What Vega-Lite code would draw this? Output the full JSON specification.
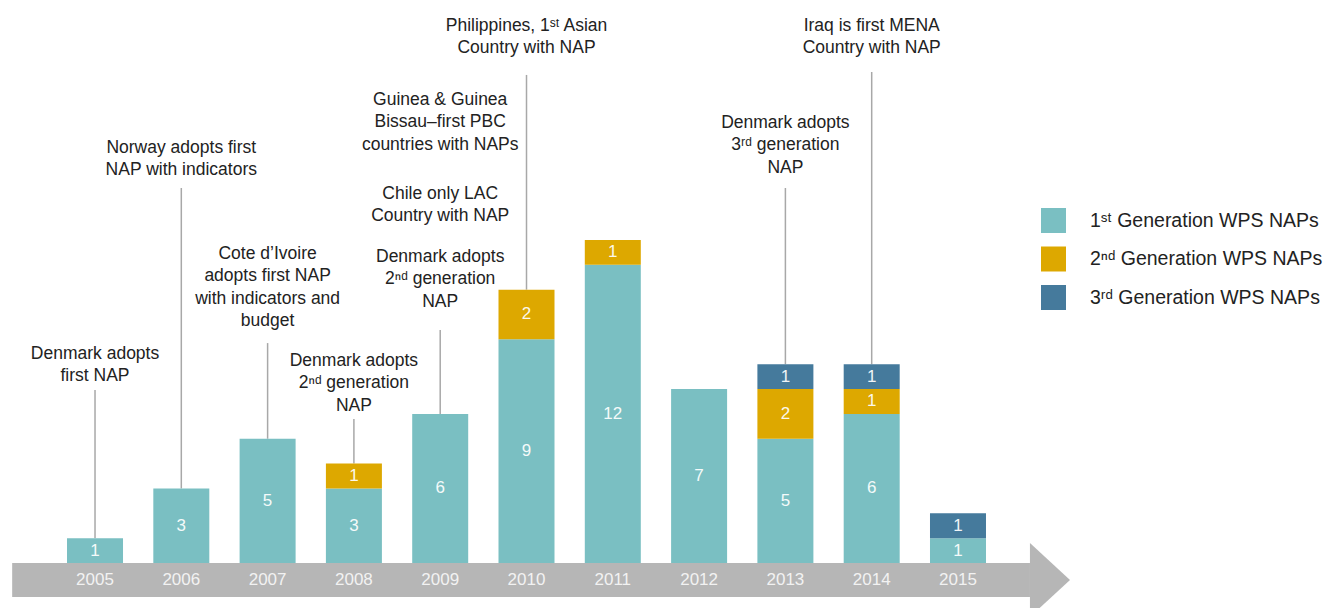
{
  "$schema": "https://vega.github.io/schema/vega-lite/v6.json",
  "width": 1327,
  "height": 608,
  "padding": 0,
  "autosize": {"type": "none"},
  "background": "white",
  "config": {"view": {"stroke": null}, "font": "Liberation Sans", "scale": {"continuousPadding": 0}},
  "datasets": {
    "bars": [
      {"year": 2005, "gen": "1ˢᵗ Generation WPS NAPs", "n": 1},
      {"year": 2006, "gen": "1ˢᵗ Generation WPS NAPs", "n": 3},
      {"year": 2007, "gen": "1ˢᵗ Generation WPS NAPs", "n": 5},
      {"year": 2008, "gen": "1ˢᵗ Generation WPS NAPs", "n": 3},
      {"year": 2008, "gen": "2ⁿᵈ Generation WPS NAPs", "n": 1},
      {"year": 2009, "gen": "1ˢᵗ Generation WPS NAPs", "n": 6},
      {"year": 2010, "gen": "1ˢᵗ Generation WPS NAPs", "n": 9},
      {"year": 2010, "gen": "2ⁿᵈ Generation WPS NAPs", "n": 2},
      {"year": 2011, "gen": "1ˢᵗ Generation WPS NAPs", "n": 12},
      {"year": 2011, "gen": "2ⁿᵈ Generation WPS NAPs", "n": 1},
      {"year": 2012, "gen": "1ˢᵗ Generation WPS NAPs", "n": 7},
      {"year": 2013, "gen": "1ˢᵗ Generation WPS NAPs", "n": 5},
      {"year": 2013, "gen": "2ⁿᵈ Generation WPS NAPs", "n": 2},
      {"year": 2013, "gen": "3ʳᵈ Generation WPS NAPs", "n": 1},
      {"year": 2014, "gen": "1ˢᵗ Generation WPS NAPs", "n": 6},
      {"year": 2014, "gen": "2ⁿᵈ Generation WPS NAPs", "n": 1},
      {"year": 2014, "gen": "3ʳᵈ Generation WPS NAPs", "n": 1},
      {"year": 2015, "gen": "1ˢᵗ Generation WPS NAPs", "n": 1},
      {"year": 2015, "gen": "3ʳᵈ Generation WPS NAPs", "n": 1}
    ],
    "leaders": [
      {"year": 2005, "base": 1, "top": 6.96},
      {"year": 2006, "base": 3, "top": 15.09},
      {"year": 2007, "base": 5, "top": 8.85},
      {"year": 2008, "base": 4, "top": 5.79},
      {"year": 2009, "base": 6, "top": 9.38},
      {"year": 2010, "base": 11, "top": 19.64},
      {"year": 2013, "base": 8, "top": 15.09},
      {"year": 2014, "base": 8, "top": 19.76}
    ],
    "notes": [
      {"year": 2005, "level": 8.21, "note": "Denmark adopts\nfirst NAP"},
      {"year": 2006, "level": 16.5, "note": "Norway adopts first\nNAP with indicators"},
      {"year": 2007, "level": 12.23, "note": "Cote d’Ivoire\nadopts first NAP\nwith indicators and\nbudget"},
      {"year": 2008, "level": 7.93, "note": "Denmark adopts\n2ⁿᵈ generation\nNAP"},
      {"year": 2009, "level": 12.11, "note": "Denmark adopts\n2ⁿᵈ generation\nNAP"},
      {"year": 2009, "level": 14.65, "note": "Chile only LAC\nCountry with NAP"},
      {"year": 2009, "level": 18.43, "note": "Guinea & Guinea\nBissau–first PBC\ncountries with NAPs"},
      {"year": 2010, "level": 21.42, "note": "Philippines, 1ˢᵗ Asian\nCountry with NAP"},
      {"year": 2013, "level": 17.5, "note": "Denmark adopts\n3ʳᵈ generation\nNAP"},
      {"year": 2014, "level": 21.42, "note": "Iraq is first MENA\nCountry with NAP"}
    ],
    "band": [
      {"x0": 2004.04, "x1": 2015.834, "y0": 0, "y1": -1.37}
    ],
    "head": [
      {"x": 2015.834, "lo": -2.17, "hi": 0.805},
      {"x": 2016.298, "lo": -0.684, "hi": -0.684}
    ]
  },
  "layer": [
    {
      "data": {"name": "band"},
      "mark": {"type": "rect", "color": "#b6b6b6"},
      "encoding": {
        "x": {"field": "x0", "type": "quantitative", "scale": {"domain": [2003.899, 2019.276], "nice": false, "zero": false, "padding": 0}, "axis": null},
        "x2": {"field": "x1"},
        "y": {"field": "y0", "type": "quantitative", "scale": {"domain": [-1.811, 22.656], "nice": false, "zero": false, "padding": 0}, "axis": null},
        "y2": {"field": "y1"}
      }
    },
    {
      "data": {"name": "head"},
      "mark": {"type": "area", "color": "#b6b6b6", "opacity": 1},
      "encoding": {
        "x": {"field": "x", "type": "quantitative", "scale": {"domain": [2003.899, 2019.276], "nice": false, "zero": false, "padding": 0}, "axis": null},
        "y": {"field": "lo", "type": "quantitative", "scale": {"domain": [-1.811, 22.656], "nice": false, "zero": false, "padding": 0}, "axis": null},
        "y2": {"field": "hi"}
      }
    },
    {
      "data": {"name": "leaders"},
      "mark": {"type": "rule", "color": "#a8a8a8", "strokeWidth": 1.5},
      "encoding": {
        "x": {"field": "year", "type": "quantitative", "scale": {"domain": [2003.899, 2019.276], "nice": false, "zero": false, "padding": 0}, "axis": null},
        "y": {"field": "base", "type": "quantitative", "scale": {"domain": [-1.811, 22.656], "nice": false, "zero": false, "padding": 0}, "axis": null},
        "y2": {"field": "top"}
      }
    },
    {
      "data": {"name": "bars"},
      "mark": {"type": "bar", "size": 56},
      "encoding": {
        "x": {"field": "year", "type": "quantitative", "scale": {"domain": [2003.899, 2019.276], "nice": false, "zero": false, "padding": 0}, "axis": null},
        "y": {"field": "n", "type": "quantitative", "stack": "zero", "scale": {"domain": [-1.811, 22.656], "nice": false, "zero": false, "padding": 0}, "axis": null},
        "order": {"field": "gen", "sort": "ascending"},
        "color": {
          "field": "gen",
          "type": "nominal",
          "scale": {"range": ["#7abfc2", "#dda800", "#457a9c"]},
          "legend": {
            "orient": "none",
            "legendX": 1041,
            "legendY": 208,
            "title": null,
            "symbolType": "square",
            "symbolSize": 625,
            "symbolOpacity": 1,
            "symbolStrokeWidth": 0,
            "labelFont": "Liberation Sans",
            "labelFontSize": 19.5,
            "labelColor": "#222",
            "labelOffset": 24,
            "rowPadding": 13.5,
            "labelLimit": 400
          }
        }
      }
    },
    {
      "data": {"name": "bars"},
      "transform": [
        {"stack": "n", "groupby": ["year"], "sort": [{"field": "gen", "order": "ascending"}], "as": ["s0", "s1"]},
        {"calculate": "(datum.s0 + datum.s1) / 2", "as": "mid"}
      ],
      "mark": {"type": "text", "color": "white", "opacity": 0.92, "fontSize": 17, "baseline": "middle", "align": "center"},
      "encoding": {
        "x": {"field": "year", "type": "quantitative", "scale": {"domain": [2003.899, 2019.276], "nice": false, "zero": false, "padding": 0}, "axis": null},
        "y": {"field": "mid", "type": "quantitative", "scale": {"domain": [-1.811, 22.656], "nice": false, "zero": false, "padding": 0}, "axis": null},
        "text": {"field": "n", "type": "quantitative"}
      }
    },
    {
      "data": {"name": "bars"},
      "transform": [
        {"aggregate": [{"op": "sum", "field": "n", "as": "total"}], "groupby": ["year"]}
      ],
      "mark": {"type": "text", "color": "#f2f2f2", "fontSize": 17, "baseline": "middle", "align": "center"},
      "encoding": {
        "x": {"field": "year", "type": "quantitative", "scale": {"domain": [2003.899, 2019.276], "nice": false, "zero": false, "padding": 0}, "axis": null},
        "y": {"datum": -0.684, "type": "quantitative", "scale": {"domain": [-1.811, 22.656], "nice": false, "zero": false, "padding": 0}, "axis": null},
        "text": {"field": "year", "type": "nominal"}
      }
    },
    {
      "data": {"name": "notes"},
      "mark": {"type": "text", "color": "#222", "fontSize": 17.5, "align": "center", "baseline": "alphabetic", "lineBreak": "\n", "lineHeight": 22.3},
      "encoding": {
        "x": {"field": "year", "type": "quantitative", "scale": {"domain": [2003.899, 2019.276], "nice": false, "zero": false, "padding": 0}, "axis": null},
        "y": {"field": "level", "type": "quantitative", "scale": {"domain": [-1.811, 22.656], "nice": false, "zero": false, "padding": 0}, "axis": null},
        "text": {"field": "note", "type": "nominal"}
      }
    }
  ]
}
